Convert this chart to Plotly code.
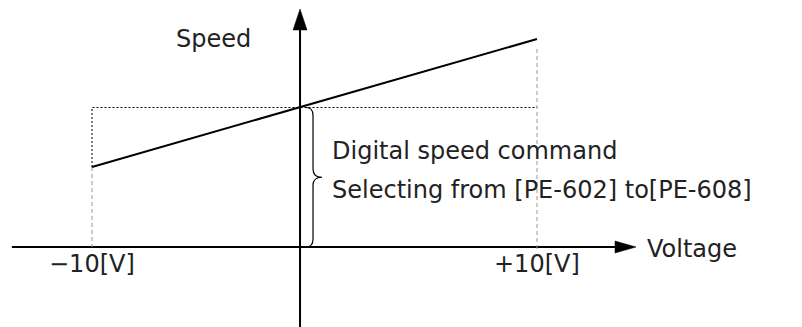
import plotly.graph_objects as go

# values
voltage_limits = [-10, 10]
voltage_labels = ["−10[V]", "+10[V]"]
speed_at_limits = [80, 208]      # arbitrary speed units
digital_speed = 139.5            # level where the line meets the speed axis
speed_axis_at = -0.65            # voltage where the speed axis is drawn
voltage_axis_span = [-13.6, 14.45]
speed_axis_span = [-80, 238]

# the page body adds an 8px margin, so the figure is 8px smaller each way
W, H = 794, 319
x_range = [-13.775, 21.91]
y_range = [-80, 239]
kx = W / (x_range[1] - x_range[0])
ky = H / (y_range[1] - y_range[0])


def dx(px):
    return px / kx


def dy(px):
    return px / ky


fig = go.Figure()

# voltage axis + arrow
fig.add_trace(go.Scatter(x=[voltage_axis_span[0], voltage_axis_span[1] - dx(18)], y=[0, 0],
                         mode="lines", line=dict(color="black", width=2)))
tip = voltage_axis_span[1]
fig.add_trace(go.Scatter(x=[tip - dx(21), tip, tip - dx(21), tip - dx(21)],
                         y=[dy(6), 0, -dy(6), dy(6)],
                         mode="lines", fill="toself", fillcolor="black",
                         line=dict(color="black", width=0.5)))

# speed axis + arrow
fig.add_trace(go.Scatter(x=[speed_axis_at, speed_axis_at], y=[speed_axis_span[0], speed_axis_span[1] - dy(18)],
                         mode="lines", line=dict(color="black", width=2)))
tip = speed_axis_span[1]
fig.add_trace(go.Scatter(x=[speed_axis_at - dx(7), speed_axis_at, speed_axis_at + dx(7), speed_axis_at - dx(7)],
                         y=[tip - dy(21), tip, tip - dy(21), tip - dy(21)],
                         mode="lines", fill="toself", fillcolor="black",
                         line=dict(color="black", width=0.5)))

# guide lines
fig.add_trace(go.Scatter(x=[voltage_limits[0], voltage_limits[0], voltage_limits[1]],
                         y=[speed_at_limits[0], digital_speed, digital_speed],
                         mode="lines", line=dict(color="black", width=1, dash="2px,2px")))
fig.add_trace(go.Scatter(x=[voltage_limits[0], voltage_limits[0]], y=[speed_at_limits[0], 0],
                         mode="lines", line=dict(color="#999999", width=1, dash="4px,3px")))
fig.add_trace(go.Scatter(x=[voltage_limits[1], voltage_limits[1]], y=[speed_at_limits[1] - dy(10), -dy(3)],
                         mode="lines", line=dict(color="#999999", width=1, dash="4px,3px")))

# speed command line
fig.add_trace(go.Scatter(x=voltage_limits, y=speed_at_limits,
                         mode="lines", line=dict(color="black", width=2)))

# brace
def X(o):
    return speed_axis_at + dx(o)


top, bot = digital_speed, 0
mid = (top + bot) / 2
r = dy(8)
brace = (f"M {X(6)},{top} Q {X(13)},{top} {X(13)},{top - r} L {X(13)},{mid + r} "
         f"Q {X(13)},{mid} {X(22)},{mid} Q {X(13)},{mid} {X(13)},{mid - r} "
         f"L {X(13)},{bot + r} Q {X(13)},{bot} {X(6)},{bot}")
fig.add_shape(type="path", path=brace, xref="x", yref="y", line=dict(color="black", width=1.2))

font_lbl = dict(family="DejaVu Sans", size=24, color="#222222")
font_txt = dict(family="DejaVu Sans", size=24, color="#222222")

annotations = [
    dict(x=speed_axis_at - dx(87), y=dy(208), text="Speed", font=font_lbl, xanchor="center"),
    dict(x=voltage_axis_span[1] + dx(9), y=-dy(2), text="Voltage", font=font_lbl, xanchor="left"),
    dict(x=X(30), y=dy(96), text="Digital speed command", font=font_txt, xanchor="left"),
    dict(x=X(30), y=dy(57), text="Selecting from [PE-602] to[PE-608]", font=font_txt, xanchor="left"),
]
for v, lbl in zip(voltage_limits, voltage_labels):
    annotations.append(dict(x=v, y=-dy(17), text=lbl, font=font_lbl, xanchor="center"))
for a in annotations:
    a.update(xref="x", yref="y", showarrow=False, yanchor="middle")

fig.update_layout(
    width=W, height=H,
    margin=dict(l=0, r=0, t=0, b=0),
    paper_bgcolor="white", plot_bgcolor="white",
    showlegend=False,
    xaxis=dict(range=x_range, visible=False, fixedrange=True),
    yaxis=dict(range=y_range, visible=False, fixedrange=True),
    annotations=annotations,
)

fig.write_html("out.html")
